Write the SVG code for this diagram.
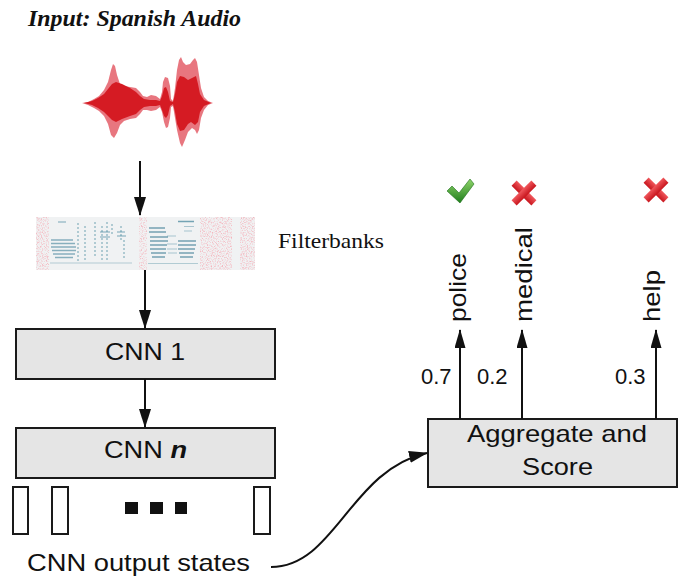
<svg xmlns="http://www.w3.org/2000/svg" width="680" height="578" viewBox="0 0 680 578">
  <style>
    .box { fill: #e5e5e5; stroke: #1a1a1a; stroke-width: 2; }
    .state { fill: #ffffff; stroke: #1a1a1a; stroke-width: 2; }
    .sans { font-family: "Liberation Sans", Arial, sans-serif; fill: #111111; }
    .serif { font-family: "Liberation Serif", "Times New Roman", serif; fill: #111111; }
    .edge { fill: none; stroke: #111111; stroke-width: 2; }
    .harm { stroke: #3f8299; fill: none; }
    .col { stroke: #3f8299; fill: none; stroke-dasharray: 2 2; }
  </style>
  <defs>
    <marker id="arrow" markerUnits="userSpaceOnUse" viewBox="0 0 19 12" markerWidth="19" markerHeight="12" refX="18" refY="6" orient="auto">
      <path d="M0,0 L19,6 L0,12 z" fill="#111111"/>
    </marker>
    <marker id="arrow-sm" markerUnits="userSpaceOnUse" viewBox="0 0 19 11" markerWidth="19" markerHeight="11" refX="18" refY="5.5" orient="auto">
      <path d="M0,0 L19,5.5 L0,11 z" fill="#111111"/>
    </marker>
    <filter id="speckle" x="0" y="0" width="1" height="1">
      <feTurbulence type="fractalNoise" baseFrequency="0.8" numOctaves="2" seed="7" result="t"/>
      <feColorMatrix in="t" type="matrix" values="0 0 0 0 0.91  0 0 0 0 0.45  0 0 0 0 0.5  2.6 0 0 0 -1.15" result="c"/>
      <feComposite in="c" in2="SourceGraphic" operator="in"/>
    </filter>
    <filter id="soft" x="-0.1" y="-0.2" width="1.2" height="1.4">
      <feGaussianBlur stdDeviation="0.5"/>
    </filter>
    <linearGradient id="okGrad" x1="0" y1="0" x2="0" y2="1">
      <stop offset="0" stop-color="#8fd46a"/>
      <stop offset="1" stop-color="#1f7d1c"/>
    </linearGradient>
    <linearGradient id="noGrad" x1="0" y1="0" x2="0" y2="1">
      <stop offset="0" stop-color="#f0575c"/>
      <stop offset="1" stop-color="#c8161e"/>
    </linearGradient>
  </defs>

  <!-- heading -->
  <text class="serif" x="28" y="26" font-size="24" font-weight="bold" font-style="italic" textLength="213" lengthAdjust="spacingAndGlyphs">Input: Spanish Audio</text>

  <!-- audio waveform -->
  <g id="waveform">
    <path fill="#e8767f" d="M82,103 L88,102 L94,99 L99,96 L104,90 L108,82 L111,70 L113,64 L115,66 L117,75 L120,84 L124,86 L130,87 L136,88 L140,92 L143,96 L147,97 L151,95 L156,96 L160,99 L162,92 L163,82 L165,77 L168,78 L170,86 L171,99 L173,101 L175,88 L177,70 L179,60 L181,57 L183,62 L186,65 L190,64 L193,60 L195,58 L197,62 L199,75 L201,88 L204,97 L208,101 L213,103 L208,105 L204,110 L201,118 L199,130 L197,134 L195,130 L192,128 L188,132 L185,140 L182,147 L180,143 L177,130 L175,118 L173,106 L171,107 L170,118 L168,127 L166,128 L164,122 L162,112 L160,107 L156,110 L151,111 L147,110 L143,110 L140,114 L136,118 L130,119 L124,121 L120,125 L117,133 L114,138 L111,135 L108,124 L104,116 L99,111 L94,108 L88,105 Z"/>
    <path fill="#d51b23" d="M84,103 L92,101 L98,98 L104,94 L108,89 L112,84 L116,82 L122,84 L130,88 L136,92 L140,96 L144,99 L150,100 L156,100 L160,101 L162,96 L164,88 L166,87 L168,92 L170,101 L173,102 L175,94 L177,82 L180,76 L184,77 L188,80 L192,78 L196,76 L198,84 L200,94 L204,100 L211,103 L204,106 L200,112 L198,122 L195,125 L191,122 L188,124 L184,130 L180,131 L177,124 L175,112 L173,104 L170,106 L168,115 L166,118 L164,116 L162,110 L160,105 L156,106 L150,106 L144,107 L140,110 L136,114 L130,116 L122,119 L116,122 L112,120 L108,116 L104,112 L98,108 L92,105 Z"/>
  </g>

  <!-- filterbank spectrogram -->
  <g id="filterbanks">
    <rect x="36" y="217" width="219" height="53" fill="#f0f2f3"/>
    <g filter="url(#speckle)">
      <rect x="36" y="217" width="13" height="53" fill="#000"/>
      <rect x="139" y="217" width="8" height="53" fill="#000"/>
      <rect x="200" y="217" width="32" height="53" fill="#000"/>
      <rect x="240" y="217" width="15" height="53" fill="#000"/>
    </g>
    <g filter="url(#soft)">
      <!-- low harmonics, first syllable -->
      <g class="harm" stroke-width="1.4" opacity="0.6">
        <path d="M51,240 h22 M51,243.5 h24 M51,247 h25 M52,250.5 h24 M53,254 h22 M55,257.5 h18"/>
      </g>
      <!-- onset columns -->
      <g class="col" stroke-width="1.6" opacity="0.45">
        <path d="M78,223 v38 M85,226 v34 M95,222 v36 M102,226 v34 M107,222 v38 M112,224 v12 M121,226 v14 M124,240 v18"/>
      </g>
      <g class="harm" stroke-width="1.4" opacity="0.45">
        <path d="M58,222 h8 M100,232 h10 M100,237 h10 M117,232 h8 M117,236 h9"/>
      </g>
      <!-- second syllable formants -->
      <g class="harm" stroke-width="1.6" opacity="0.7">
        <path d="M149,228 h16 M149,232 h17 M150,237 h18 M150,241 h18 M150,245 h17 M150,249 h16 M151,253 h15 M152,257 h13"/>
        <path d="M178,221.5 h16 M178,241 h18 M178,245 h18 M178,249 h17 M179,253 h15 M180,257 h13"/>
      </g>
      <g class="harm" stroke-width="1.2" opacity="0.4">
        <path d="M167,236 h9 M167,244 h10 M167,249 h10 M168,253 h9 M184,226.5 h10 M184,231 h8"/>
      </g>
      <!-- low band -->
      <g class="harm" stroke-width="1.2" opacity="0.35">
        <path d="M50,263 h82 M148,263.5 h50"/>
      </g>
    </g>
  </g>
  <text class="serif" x="278" y="248" font-size="22" textLength="106" lengthAdjust="spacingAndGlyphs">Filterbanks</text>

  <!-- convolutional stages -->
  <g id="cnn-1">
    <rect class="box" x="16" y="329" width="259" height="50"/>
    <text class="sans" x="105" y="360" font-size="24" textLength="80" lengthAdjust="spacingAndGlyphs">CNN 1</text>
  </g>
  <g id="cnn-n">
    <rect class="box" x="16" y="428" width="259" height="50"/>
    <text class="sans" x="104" y="458" font-size="24" textLength="83" lengthAdjust="spacingAndGlyphs">CNN <tspan font-weight="bold" font-style="italic">n</tspan></text>
  </g>

  <!-- output state vectors -->
  <g id="cnn-output-states">
    <rect class="state" x="13" y="487" width="15" height="47"/>
    <rect class="state" x="52" y="487" width="16" height="47"/>
    <rect class="state" x="254" y="487" width="16" height="47"/>
    <rect x="125" y="502" width="13" height="12" fill="#111111"/>
    <rect x="150" y="502" width="13" height="12" fill="#111111"/>
    <rect x="175" y="502" width="12" height="12" fill="#111111"/>
    <text class="sans" x="27" y="571" font-size="24" textLength="223" lengthAdjust="spacingAndGlyphs">CNN output states</text>
  </g>

  <!-- scoring stage -->
  <g id="aggregate-score">
    <rect class="box" x="428" y="419" width="249" height="68"/>
    <text class="sans" x="467" y="442" font-size="24" textLength="180" lengthAdjust="spacingAndGlyphs">Aggregate and</text>
    <text class="sans" x="522" y="475" font-size="24" textLength="71" lengthAdjust="spacingAndGlyphs">Score</text>
  </g>

  <!-- keyword outputs -->
  <g id="keyword-police">
    <text class="sans" font-size="24" transform="translate(466,322) rotate(-90)" textLength="69" lengthAdjust="spacingAndGlyphs">police</text>
    <path fill="url(#okGrad)" stroke="#1c6e19" stroke-width="0.6" d="M447,191 L452,186 L459,193 L470,179 L474,184 L460,203 Z"/>
  </g>
  <g id="keyword-medical">
    <text class="sans" font-size="24" transform="translate(532,322) rotate(-90)" textLength="95" lengthAdjust="spacingAndGlyphs">medical</text>
    <g transform="translate(524,193)" fill="url(#noGrad)">
      <rect x="-14" y="-3.6" width="28" height="7.2" transform="rotate(45)"/>
      <rect x="-14" y="-3.6" width="28" height="7.2" transform="rotate(-45)"/>
    </g>
  </g>
  <g id="keyword-help">
    <text class="sans" font-size="24" transform="translate(660,322) rotate(-90)" textLength="52" lengthAdjust="spacingAndGlyphs">help</text>
    <g transform="translate(656,190)" fill="url(#noGrad)">
      <rect x="-14" y="-3.6" width="28" height="7.2" transform="rotate(45)"/>
      <rect x="-14" y="-3.6" width="28" height="7.2" transform="rotate(-45)"/>
    </g>
  </g>

  <!-- scores -->
  <g id="scores" class="sans" font-size="22">
    <text x="421" y="384">0.7</text>
    <text x="477" y="384">0.2</text>
    <text x="615" y="384">0.3</text>
  </g>

  <!-- connectors -->
  <g id="connectors">
    <line class="edge" x1="140" y1="161" x2="140" y2="215" marker-end="url(#arrow)"/>
    <line class="edge" x1="145" y1="270" x2="145" y2="328" marker-end="url(#arrow)"/>
    <line class="edge" x1="145" y1="379" x2="145" y2="427" marker-end="url(#arrow)"/>
    <line class="edge" x1="460" y1="419" x2="460" y2="330" marker-end="url(#arrow-sm)"/>
    <line class="edge" x1="522" y1="419" x2="522" y2="330" marker-end="url(#arrow-sm)"/>
    <line class="edge" x1="656" y1="419" x2="656" y2="330" marker-end="url(#arrow-sm)"/>
    <path class="edge" d="M271,567 C335,567 350,470 427,453" marker-end="url(#arrow)"/>
  </g>
</svg>
